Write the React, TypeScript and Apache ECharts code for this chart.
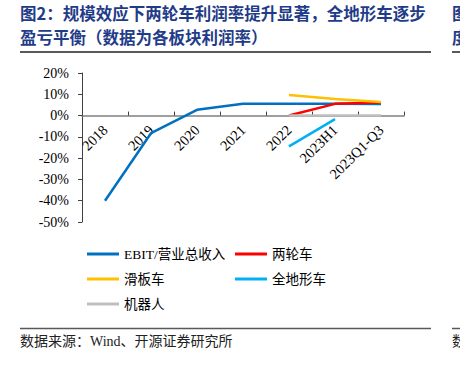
import React, { useEffect, useRef } from "react";
import * as echarts from "echarts";

const categories = ["2018", "2019", "2020", "2021", "2022", "2023H1", "2023Q1-Q3"];
const ebitValues = [-40, -8.3, 2.7, 5.6, 5.6, 5.6, 5.4];
const twoWheelValues = [null, null, null, null, 0, 5.5, 6.1];
const scooterValues = [null, null, null, null, 9.7, 7.8, 6.4];
const atvValues = [null, null, null, null, -14.5, -1.7, null];
const robotValues = [null, null, null, null, 0, 0, 0];
const yMin = -50;
const yMax = 20;
const yInterval = 10;

const titleLine1 = "图2：规模效应下两轮车利润率提升显著，全地形车逐步";
const titleLine2 = "盈亏平衡（数据为各板块利润率）";
const sourceText = "数据来源：Wind、开源证券研究所";

const serif = "'Liberation Serif', 'Noto Sans CJK SC', serif";
const titleFont = "'Noto Sans CJK SC', sans-serif";

const GRID_TOP = 73;
const GRID_H = 149;
const zeroOffset = (GRID_H * yMax) / (yMax - yMin) - GRID_H; // negative: move axis up to zero

export default function App() {
  const ref = useRef<HTMLDivElement>(null);
  useEffect(() => {
    if (!ref.current) return;
    const chart = echarts.init(ref.current, undefined, { renderer: "svg" });
    const mk = (name: string, data: any[], color: string) => ({
      name,
      type: "line",
      data,
      showSymbol: false,
      symbol: "none",
      connectNulls: false,
      lineStyle: { color, width: 2.5 },
      itemStyle: { color },
      z: 3,
    });
    const legendCommon = {
      orient: "vertical",
      top: 241,
      itemGap: 9,
      itemWidth: 32,
      itemHeight: 3,
      icon: "rect",
      textStyle: { fontFamily: serif, fontSize: 13.5, color: "#000", lineHeight: 16 },
    };
    chart.setOption({
      animation: false,
      backgroundColor: "#ffffff",
      grid: { left: 82, top: GRID_TOP, width: 322, height: GRID_H, containLabel: false },
      xAxis: {
        type: "category",
        data: categories,
        boundaryGap: true,
        offset: zeroOffset,
        axisLine: { onZero: false, lineStyle: { color: "#808080", width: 1.5 } },
        axisTick: { show: true, inside: true, length: 4, lineStyle: { color: "#404040" } },
        axisLabel: {
          rotate: 45,
          interval: 0,
          margin: 12,
          fontFamily: serif,
          fontSize: 14.5,
          color: "#000",
        },
        splitLine: { show: false },
      },
      yAxis: {
        type: "value",
        min: yMin,
        max: yMax,
        interval: yInterval,
        axisLine: { show: true, lineStyle: { color: "#404040", width: 1 } },
        axisTick: { show: true, inside: false, length: 4, lineStyle: { color: "#404040" } },
        axisLabel: {
          formatter: "{value}%",
          margin: 13,
          fontFamily: serif,
          fontSize: 14,
          color: "#000",
        },
        splitLine: { show: false },
      },
      legend: [
        { ...legendCommon, left: 82, data: ["EBIT/营业总收入", "滑板车", "机器人"] },
        { ...legendCommon, left: 230, data: ["两轮车", "全地形车"] },
      ],
      series: [
        mk("EBIT/营业总收入", ebitValues, "#0070C0"),
        mk("两轮车", twoWheelValues, "#FF0000"),
        mk("滑板车", scooterValues, "#FFC000"),
        mk("全地形车", atvValues, "#00B0F0"),
        mk("机器人", robotValues, "#BFBFBF"),
      ],
      graphic: [
        {
          type: "text",
          left: 20,
          top: 5,
          style: { text: titleLine1, font: `bold 16.5px ${titleFont}`, fill: "#1F3C88" },
        },
        {
          type: "text",
          left: 20,
          top: 29,
          style: { text: titleLine2, font: `bold 16.5px ${titleFont}`, fill: "#1F3C88" },
        },
        {
          type: "text",
          left: 452,
          top: 5,
          style: { text: "图", font: `bold 16.5px ${titleFont}`, fill: "#1F3C88" },
        },
        {
          type: "text",
          left: 452,
          top: 29,
          style: { text: "度", font: `bold 16.5px ${titleFont}`, fill: "#1F3C88" },
        },
        {
          type: "line",
          shape: { x1: 20, y1: 52, x2: 431, y2: 52 },
          style: { stroke: "#595959", lineWidth: 2 },
        },
        {
          type: "line",
          shape: { x1: 452, y1: 52, x2: 460, y2: 52 },
          style: { stroke: "#595959", lineWidth: 2 },
        },
        {
          type: "line",
          shape: { x1: 20, y1: 328.5, x2: 431, y2: 328.5 },
          style: { stroke: "#595959", lineWidth: 1.5 },
        },
        {
          type: "line",
          shape: { x1: 452, y1: 328.5, x2: 460, y2: 328.5 },
          style: { stroke: "#595959", lineWidth: 1.5 },
        },
        {
          type: "text",
          left: 20,
          top: 334,
          style: { text: sourceText, font: `14px ${serif}`, fill: "#222" },
        },
        {
          type: "text",
          left: 452,
          top: 334,
          style: { text: "数", font: `14px ${serif}`, fill: "#222" },
        },
      ],
    });
    return () => chart.dispose();
  }, []);
  return (
    <div
      ref={ref}
      style={{ position: "fixed", left: 0, top: 0, width: 460, height: 369 }}
    />
  );
}
